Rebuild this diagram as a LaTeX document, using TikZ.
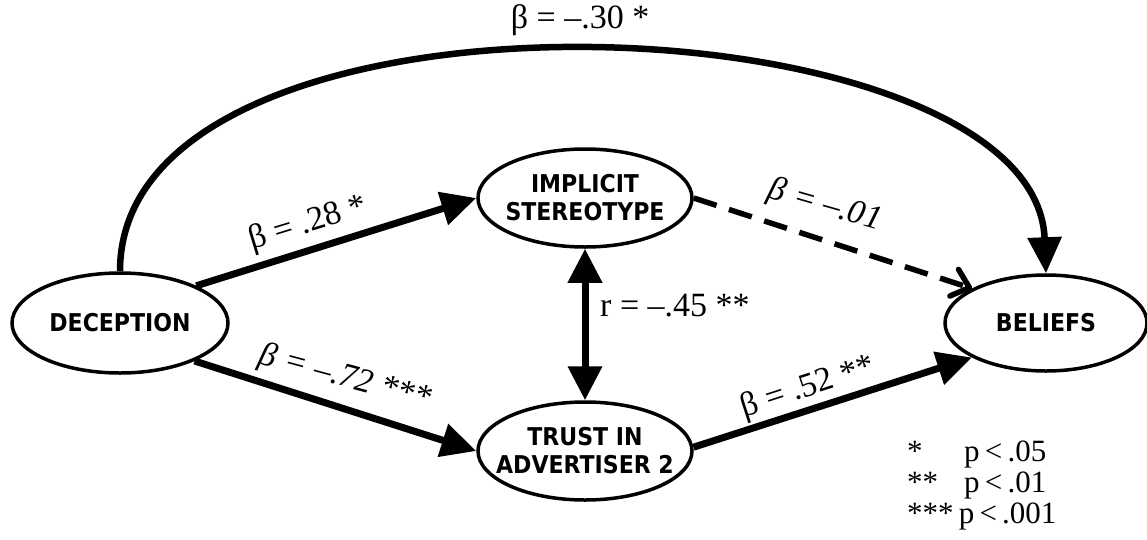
\documentclass[tikz,border=0pt]{standalone}
\usepackage{fontspec}
\setmainfont{Liberation Serif}
\newfontfamily\nodefont[FakeStretch=0.9]{DejaVu Sans}
\usetikzlibrary{arrows.meta,shapes.geometric}
\tikzset{
  ell/.style={draw, ellipse, line width=3.5pt, minimum width=214pt, minimum height=98pt, inner sep=0pt},
  nt/.style={font=\nodefont\bfseries\fontsize{24.5}{28}\selectfont, align=center, inner sep=0pt},
  lbl/.style={font=\fontsize{34}{38}\selectfont, inner sep=0pt},
  ilbl/.style={font=\fontsize{34}{38}\selectfont\itshape, inner sep=0pt},
  leg/.style={font=\fontsize{31}{34}\selectfont, inner sep=0pt, anchor=base west},
  arr/.style={line width=7pt, -{Triangle[length=35pt,width=33pt]}},
  darr/.style={line width=7pt, {Triangle[length=34pt,width=33pt]}-{Triangle[length=34pt,width=33pt]}},
  curvearr/.style={line width=6.5pt, -{Triangle[length=36pt,width=33pt]}},
  dasharr/.style={line width=5.5pt, dash pattern=on 24pt off 13pt, -{Straight Barb[length=16pt,width=28pt,round]}}
}
\begin{document}
\begin{tikzpicture}[x=1pt,y=-1pt]
\useasboundingbox (0,0) rectangle (1147,539);
% ellipses
\node[ell, minimum width=216pt, minimum height=100pt] (dec) at (120,323) {};
\node[ell] (imp) at (585,198) {};
\node[ell] (tru) at (585,451) {};
\node[ell, minimum width=202pt, minimum height=96pt] (bel) at (1046,323) {};
% node texts
\node[nt] (decT) at (dec) {DECEPTION};
\node[nt] (impT) at (imp) {IMPLICIT\\STEREOTYPE};
\node[nt] (truT) at (tru) {TRUST IN\\ADVERTISER 2};
\node[nt] (belT) at (bel) {BELIEFS};
% connectors
\draw[curvearr] (dec.north) .. controls (120,-40) and (1035,-5) .. (bel.north);
\draw[arr] (dec.26) -- (imp.west);
\draw[arr] (dec.-27) -- (tru.west);
\draw[arr] (tru.2) -- (bel.205);
\draw[dasharr] (imp.east) -- (bel.155);
\draw[darr] (imp.south) -- (tru.north);
% labels
\node[lbl] (l30) at (580,20) {β = –.30 *};
\node[lbl, rotate=17] (l28) at (308,224) {β = .28 *};
\node[ilbl, rotate=-15] (l72) at (345,378) {β = –.72 ***};
\node[ilbl, rotate=-16] (l01) at (825,206) {β = –.01};
\node[lbl, rotate=18] (l52) at (808,388) {β = .52 **};
\node[lbl, anchor=west] (lr) at (600,306) {r = –.45 **};
% legend
\node[leg] (s1) at (907,461) {*};
\node[leg] (p1) at (964,461) {p\,<\,.05};
\node[leg] (s2) at (907,492) {**};
\node[leg] (p2) at (964,492) {p\,<\,.01};
\node[leg] (s3) at (907,523) {***\,p\,<\,.001};
\end{tikzpicture}
\end{document}
